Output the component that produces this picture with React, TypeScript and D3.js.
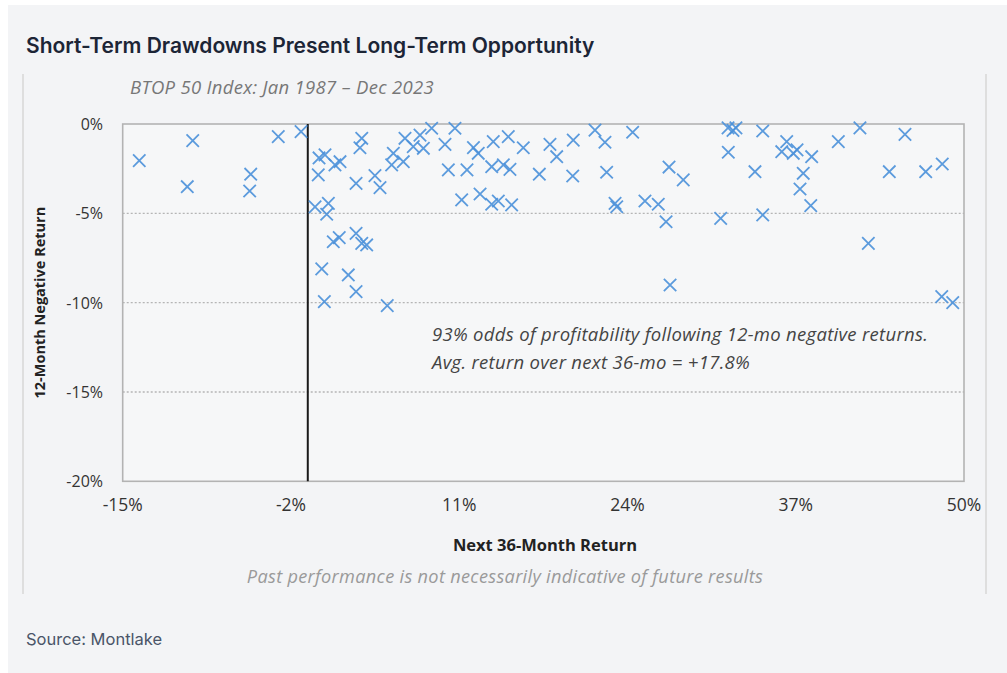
import React from "react";
import * as d3 from "d3";

const title = "Short-Term Drawdowns Present Long-Term Opportunity";
const subtitle = "BTOP 50 Index: Jan 1987 – Dec 2023";
const xTicks = [-15, -2, 11, 24, 37, 50];
const yTicks = [0, -5, -10, -15, -20];
const gridLines = [-5, -10, -15];
const zeroLineX = -0.7;
const noteLines = [
  "93% odds of profitability following 12-mo negative returns.",
  "Avg. return over next 36-mo = +17.8%",
];

// Next 36-month return (%)
const nextReturn = [
  -13.72, -9.59, -10.01, -5.11, -5.19, -2.98, -1.22,
  0.17, 0.63, 1.4, 1.79, 0.11, 3.47, 3.33, 3.03, 4.49, 4.88, 5.91, 6.81, 5.78,
  6.68, 7.45, 7.97, 8.23, 8.87, 9.9, 10.67, 10.16, 11.6, 11.19, 12.1,
  -0.14, 0.89, 0.76, 1.27, 1.73, 3.03, 3.47, 3.85, 0.38, 2.43, 3.03, 0.58, 5.44,
  12.47, 13.63, 14.79, 13.51, 14.41, 14.92, 15.95, 18.01, 18.53, 19.81, 21.49,
  22.26, 24.4, 17.19, 19.77, 22.39, 12.61, 13.51, 14.02, 15.05, 23.04, 23.17,
  25.35, 26.38, 27.21, 26.98, 27.29,
  28.31, 31.77, 32.15, 32.38, 31.79, 34.45, 33.85, 31.2, 34.45, 36.3, 35.92,
  36.81, 37.1, 38.23, 37.58, 37.33, 38.16, 40.29, 41.96, 42.61, 44.23, 45.44,
  47.04, 48.32, 48.28, 49.13,
];
// 12-month negative return (%)
const pastReturn = [
  -2.05, -0.93, -3.51, -2.81, -3.75, -0.71, -0.43,
  -1.9, -1.73, -2.29, -2.11, -2.85, -0.8, -1.33, -3.32, -2.89, -3.56, -1.64, -0.8, -2.29,
  -2.11, -1.27, -0.62, -1.36, -0.24, -1.14, -0.24, -2.57, -2.57, -4.25, -1.32,
  -4.64, -4.44, -5.05, -6.59, -6.36, -6.12, -6.68, -6.77, -8.11, -8.45, -9.38, -9.94, -10.17,
  -1.64, -0.99, -0.71, -2.39, -2.29, -2.54, -1.33, -1.14, -1.83, -0.9, -0.34,
  -1.02, -0.46, -2.81, -2.91, -2.7, -3.92, -4.49, -4.31, -4.53, -4.44, -4.63,
  -4.31, -4.49, -2.41, -5.47, -9.01,
  -3.13, -0.22, -0.36, -0.22, -1.58, -0.39, -2.67, -5.28, -5.09, -0.99, -1.55,
  -1.64, -1.45, -1.83, -2.76, -3.64, -4.57, -0.99, -0.22, -6.68, -2.67, -0.58,
  -2.67, -2.24, -9.66, -10.0,
];

const W = 1007;
const H = 673;
const plot = { left: 122.7, right: 964, top: 124, bottom: 481.3 };
const chartFont = "'Open Sans', sans-serif";
const pageFont = "Inter, 'Noto Sans', sans-serif";

export default function App() {
  const x = d3.scaleLinear().domain([-15, 50]).range([plot.left, plot.right]);
  const y = d3.scaleLinear().domain([0, -20]).range([plot.top, plot.bottom]);
  const pts = nextReturn.map((v, i) => ({ x: v, y: pastReturn[i] }));
  const s = 6.2;
  const fmt = (v: number) => `${v}%`;

  return (
    <div style={{ position: "fixed", left: 0, top: 0, width: W, height: H, background: "#ffffff" }}>
      <svg width={W} height={H} style={{ display: "block" }}>
        <rect x={8} y={5} width={W - 8} height={H - 5} fill="#f3f4f6" />
        <text x={26} y={53} fontFamily={pageFont} fontWeight={600} fontSize={21} fill="#1c2536">
          {title}
        </text>
        <line x1={23} x2={23} y1={74} y2={594} stroke="#dedede" strokeWidth={2} />
        <line x1={986} x2={986} y1={74} y2={594} stroke="#dedede" strokeWidth={2} />
        <text x={130} y={94} fontFamily={chartFont} fontStyle="italic" fontSize={18.5} letterSpacing={0.3} fill="#777">
          {subtitle}
        </text>
        <rect x={plot.left} y={plot.top} width={plot.right - plot.left} height={plot.bottom - plot.top} fill="#f6f7f8" />
        {gridLines.map((g) => (
          <line key={g} x1={plot.left} x2={plot.right} y1={y(g)} y2={y(g)} stroke="#b5b5b5" strokeWidth={1.3} strokeDasharray="2,2" />
        ))}
        <rect x={plot.left} y={plot.top} width={plot.right - plot.left} height={plot.bottom - plot.top} fill="none" stroke="#b3b3b3" strokeWidth={1.6} />
        <line x1={x(zeroLineX)} x2={x(zeroLineX)} y1={plot.top} y2={plot.bottom} stroke="#1a1a1a" strokeWidth={2} />
        {yTicks.map((t) => (
          <text key={t} x={103} y={y(t) + 6} textAnchor="end" fontFamily={chartFont} fontSize={16} fill="#333">
            {fmt(t)}
          </text>
        ))}
        {xTicks.map((t) => (
          <text key={t} x={x(t)} y={511} textAnchor="middle" fontFamily={chartFont} fontSize={17.5} fill="#333">
            {fmt(t)}
          </text>
        ))}
        <text x={545} y={551} textAnchor="middle" fontFamily={chartFont} fontWeight={700} fontSize={16.5} fill="#222">
          Next 36-Month Return
        </text>
        <text transform={`translate(45,${(plot.top + plot.bottom) / 2}) rotate(-90)`} textAnchor="middle" fontFamily={chartFont} fontWeight={700} fontSize={14.5} fill="#222">
          12-Month Negative Return
        </text>
        <text x={505} y={583} textAnchor="middle" fontFamily={chartFont} fontStyle="italic" fontSize={18.2} letterSpacing={0.3} fill="#9a9a9a">
          Past performance is not necessarily indicative of future results
        </text>
        {noteLines.map((l, i) => (
          <text key={i} x={432} y={341 + i * 28} fontFamily={chartFont} fontStyle="italic" fontSize={18.5} letterSpacing={0.3} fill="#444">
            {l}
          </text>
        ))}
        <g stroke="#4a90d9" strokeWidth={1.8} fill="none" strokeOpacity={0.9}>
          {pts.map((p, i) => (
            <path key={i} d={`M${x(p.x) - s},${y(p.y) - s}L${x(p.x) + s},${y(p.y) + s}M${x(p.x) - s},${y(p.y) + s}L${x(p.x) + s},${y(p.y) - s}`} />
          ))}
        </g>
        <text x={26} y={645} fontFamily={pageFont} fontSize={16.5} fill="#4a5568">
          Source: Montlake
        </text>
      </svg>
    </div>
  );
}
